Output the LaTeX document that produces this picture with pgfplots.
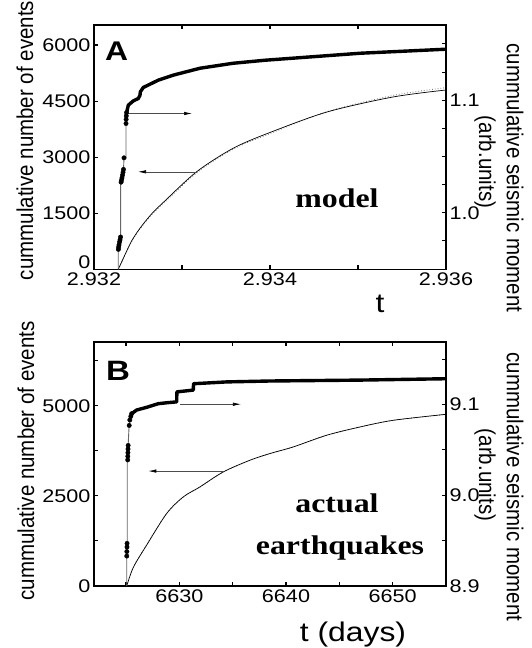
\documentclass[border=0pt]{standalone}
\usepackage{fontspec}
\setmainfont{Liberation Sans}
\newfontfamily\hfont{Liberation Sans}[FakeStretch=1.18]
\newfontfamily\vfont{Liberation Sans}
\newfontfamily\serfont{Liberation Serif}[FakeStretch=1.18]
\usepackage{pgfplots}
\pgfplotsset{compat=1.18}
\usetikzlibrary{arrows.meta}

\pgfplotsset{
  base/.style={
    scale only axis, width=352pt, anchor=south west,
    tick align=inside,
    axis line style={line width=1.3pt, black},
    every tick/.style={black, line width=1.1pt},
    major tick length=4.5pt, minor tick length=4.5pt,
    tick label style={font=\hfont\fontsize{18.3}{20}\selectfont},
  },
  thin/.style={black, line width=0.7pt, smooth},
  fit/.style={black!55, dotted, line width=0.8pt, smooth},
  thick/.style={black, line width=3.4pt, line join=round, line cap=round},
  stem/.style={black!60, line width=0.9pt},
  dots/.style={only marks, mark=*, mark size=2.2pt, black},
}
\tikzset{arr/.style={black!70, line width=0.6pt, -{Latex[length=8pt,width=3.4pt,black]}}}

\begin{document}
\begin{tikzpicture}[x=1pt,y=1pt]
\useasboundingbox (0,0) rectangle (531,648);

% ===================== panel A =====================
\begin{axis}[base, at={(94pt,378.7pt)}, height=244.3pt,
  xmin=0, xmax=4, ymin=0, ymax=6535,
  xtick={0,2,4}, xticklabels={2.932,2.934,2.936}, minor xtick={1,3},
  ytick={0,1500,3000,4500,6000}, yticklabels={\smash{\raisebox{0.5pt}{0}},1500,3000,4500,6000},
  ytick pos=left]
% x = (t - 2.932)*1000 ; cumulative number of events
\addplot[fit] table {
0.276 0
0.352 380
0.428 745
0.523 1080
0.650 1445
0.788 1760
1.167 2580
1.583 3215
2.000 3630
2.648 4215
3.398 4650
4.000 4860
};
\addplot[thin] table {
0.276 0
0.352 390
0.428 760
0.523 1100
0.650 1470
0.788 1790
1.167 2611
1.583 3240
2.000 3660
2.648 4208
3.398 4609
4.000 4796
};
\end{axis}
\begin{axis}[base, at={(94pt,378.7pt)}, height=244.3pt,
  xmin=0, xmax=4, ymin=0.9498, ymax=1.1668,
  hide x axis, ytick pos=right, yticklabel pos=right,
  ytick={1.0,1.1}, yticklabels={1.0,1.1},
  minor ytick={0.975,1.025,1.05,1.075,1.125,1.15}]
% cumulative seismic moment
\addplot[stem] table {
0.276 0.9498
0.276 0.9669
0.284 0.9672
0.295 0.9734
0.303 0.9785
0.303 1.0264
0.313 1.0272
0.324 1.0326
0.335 1.0379
0.341 1.0488
0.364 1.0488
0.364 1.0793
0.368 1.0876
0.372 1.0896
};
\addplot[dots] table {
0.277 0.9675
0.280 0.9695
0.284 0.9715
0.290 0.9740
0.296 0.9760
0.302 0.9785
0.308 1.0272
0.313 1.0290
0.318 1.0310
0.324 1.0335
0.330 1.0360
0.335 1.0385
0.341 1.0488
0.364 1.0793
0.365 1.0830
0.367 1.0860
0.370 1.0890
};
\addplot[thick] table {
0.372 1.0896
0.390 1.0956
0.447 1.0994
0.503 1.1015
0.523 1.1044
0.526 1.1074
0.560 1.1113
0.636 1.1142
0.731 1.1178
0.898 1.1222
1.205 1.1284
1.580 1.1328
1.943 1.1355
3.023 1.1417
4.000 1.1453
};
\draw[arr] (axis cs:0.386,1.0882) -- (axis cs:1.114,1.0882);
\draw[arr] (axis cs:1.170,1.0364) -- (axis cs:0.500,1.0364);
\end{axis}

% ===================== panel B =====================
\begin{axis}[base, at={(94pt,62pt)}, height=244pt,
  xmin=6622, xmax=6655, ymin=0, ymax=6770,
  xtick={6630,6640,6650}, xticklabels={6630,6640,6650}, minor xtick={6625,6635,6645},
  ytick={0,2500,5000}, yticklabels={0,2500,5000}, minor ytick={1250,3750,6250},
  ytick pos=left]
\addplot[fit] table {
6625.07 0
6625.69 525
6626.94 1150
6628.82 2020
6630.38 2470
6631.94 2745
6634.12 3160
6636.62 3485
6638.50 3672
6640.68 3855
6643.81 4180
6646.94 4410
6650.06 4596
6655.00 4760
};
\addplot[thin] table {
6625.07 0
6625.69 518
6626.94 1136
6628.82 2014
6630.38 2474
6631.94 2751
6634.12 3166
6636.62 3490
6638.50 3676
6640.68 3859
6643.81 4183
6646.94 4413
6650.06 4598
6655.00 4764
};
\end{axis}
\begin{axis}[base, at={(94pt,62pt)}, height=244pt,
  xmin=6622, xmax=6655, ymin=8.9, ymax=9.169,
  hide x axis, ytick pos=right, yticklabel pos=right,
  ytick={8.9,9.0,9.1}, yticklabels={8.9,9.0,9.1},
  minor ytick={8.95,9.05,9.15}]
\addplot[stem] table {
6625.07 8.900
6625.07 8.932
6625.10 8.947
6625.12 8.947
6625.12 9.039
6625.20 9.055
6625.30 9.079
6625.53 9.090
};
\addplot[dots] table {
6625.07 8.933
6625.08 8.938
6625.09 8.943
6625.10 8.947
6625.16 9.039
6625.17 9.043
6625.18 9.047
6625.19 9.051
6625.20 9.055
6625.30 9.077
6625.36 9.083
6625.45 9.087
6625.53 9.090
};
\addplot[thick] table {
6625.53 9.090
6626.00 9.094
6626.94 9.097
6628.03 9.101
6628.82 9.102
6629.75 9.103
6629.77 9.114
6631.31 9.116
6631.33 9.123
6634.44 9.125
6638.50 9.126
6646.94 9.127
6655.00 9.1285
};
\draw[arr] (axis cs:6630.06,9.1004) -- (axis cs:6635.78,9.1004);
\draw[arr] (axis cs:6634.12,9.0267) -- (axis cs:6627.09,9.0267);
\end{axis}

% ===================== labels =====================
\node[rotate=90, inner sep=0] at (25,507.5) {\vfont\fontsize{20.5}{22}\selectfont\scalebox{1}[1.12]{cummulative number of events}};
\node[rotate=90, inner sep=0] at (26,187) {\vfont\fontsize{20.5}{22}\selectfont\scalebox{1}[1.12]{cummulative number of events}};
\node[rotate=-90, inner sep=0] at (515,470) {\vfont\fontsize{20.5}{22}\selectfont\scalebox{1}[1.12]{cummulative seismic moment}};
\node[rotate=-90, inner sep=0] at (485,486) {\vfont\fontsize{20.5}{22}\selectfont\scalebox{1}[1.12]{(arb.units)}};
\node[rotate=-90, inner sep=0] at (515,161) {\vfont\fontsize{20.5}{22}\selectfont\scalebox{1}[1.12]{cummulative seismic moment}};
\node[rotate=-90, inner sep=0] at (485,173) {\vfont\fontsize{20.5}{22}\selectfont\scalebox{1}[1.12]{(arb.units)}};
\node[anchor=base, inner sep=0] at (380,335) {\hfont\fontsize{27}{30}\selectfont t};
\node[anchor=base, inner sep=0] at (353,6) {\hfont\fontsize{27}{30}\selectfont t (days)};
\node[anchor=base west, inner sep=0] at (105,587) {\hfont\bfseries\fontsize{27}{30}\selectfont A};
\node[anchor=base west, inner sep=0] at (106,267) {\hfont\bfseries\fontsize{28}{30}\selectfont B};
\node[anchor=base, inner sep=0] at (337,440) {\serfont\bfseries\fontsize{27}{30}\selectfont model};
\node[anchor=base, inner sep=0] at (337,135) {\serfont\bfseries\fontsize{27}{30}\selectfont actual};
\node[anchor=base, inner sep=0] at (340,93) {\serfont\bfseries\fontsize{27}{30}\selectfont earthquakes};
\end{tikzpicture}
\end{document}
